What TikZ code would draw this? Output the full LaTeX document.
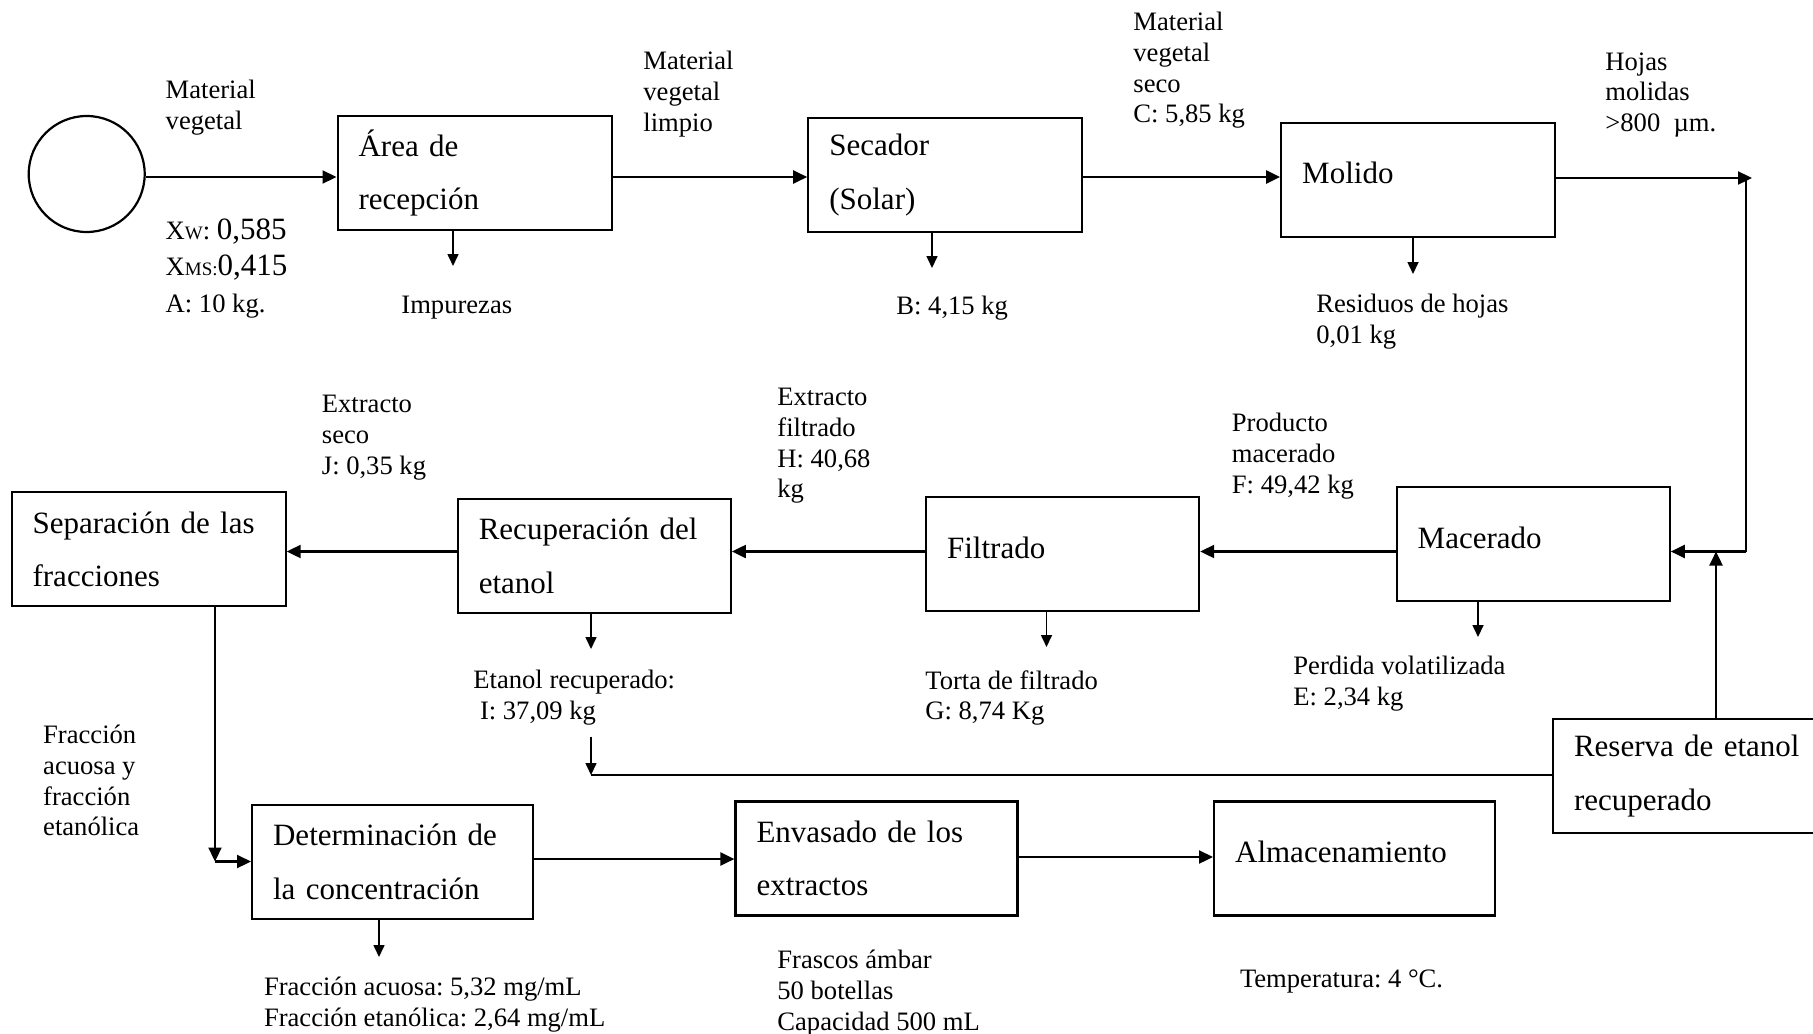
\documentclass[tikz,border=0pt]{standalone}
\usepackage{fontspec}
\setmainfont{Liberation Serif}
\usetikzlibrary{arrows.meta}
\frenchspacing
\begin{document}
\begin{tikzpicture}[x=0.5pt,y=-0.5pt,
  box/.style={draw, line width=1.1pt, inner xsep=10.5pt, inner ysep=0pt, align=left, minimum height=57pt, font=\fontsize{15.5}{26.8}\selectfont},
  lab/.style={anchor=north west, inner sep=0pt, align=left, font=\fontsize{13.3}{15.3}\selectfont},
  arr/.style={line width=1.1pt, -{Triangle[length=7pt,width=6.5pt]}},
  sarr/.style={line width=0.8pt, -{Triangle[length=6pt,width=5.5pt]}},
  thinline/.style={line width=0.6pt}]
\useasboundingbox (0,0) rectangle (1813,1033);
\fill[white] (0,0) rectangle (1813,1033);
\clip (0,0) rectangle (1813,1033);

% process units
\node[circle, draw, line width=1.1pt, minimum size=58pt, inner sep=0pt] (circ) at (86.7,174) {};
\node[box, text width=116pt] (recep) at (474.6,172.9) {Área de\\recepción};
\node[box, text width=116pt] (secad) at (945.3,175.2) {Secador\\(Solar)};
\node[box, text width=116pt] (molido) at (1418.2,179.8) {\raisebox{6.6pt}{Molido}};
\node[box, text width=115.5pt] (macer) at (1533.2,544) {\raisebox{6.6pt}{Macerado}};
\node[box, text width=115.5pt] (filtr) at (1062.6,553.9) {\raisebox{6.6pt}{Filtrado}};
\node[box, text width=115.5pt] (recup) at (594.3,555.6) {\mbox{Recuperación del}\\etanol};
\node[box, text width=116pt] (separ) at (148.6,549.2) {\mbox{Separación de las}\\fracciones};
\node[box, text width=110.5pt] (reserva) at (1684.5,776) {\mbox{Reserva de etanol}\\recuperado};
\node[box, text width=119.5pt] (determ) at (392.6,862) {\mbox{Determinación de}\\\mbox{la concentración}};
\node[box, text width=120pt] (envas) at (876.5,858.5) {\mbox{Envasado de los}\\extractos};
\node[box, text width=119.5pt] (almac) at (1354.6,858.5) {\raisebox{6.6pt}{Almacenamiento}};

% labels
\node[lab] (lmat) at (165.3,80) {Material\\vegetal};
\node[lab, font=\fontsize{13.3}{18.3}\selectfont] (lx) at (165.3,218) {X{\fontsize{9.5}{9.5}\selectfont W}: {\fontsize{15.5}{15.5}\selectfont 0,585}\\X{\fontsize{9.5}{9.5}\selectfont MS:}{\fontsize{15.5}{15.5}\selectfont 0,415}\\A: 10 kg.};
\node[lab] (limp) at (401,296) {Impurezas};
\node[lab] (llim) at (643,51) {Material\\vegetal\\limpio};
\node[lab] (lseco) at (1133,12) {Material\\vegetal\\seco\\C: 5,85 kg};
\node[lab] (lb) at (896,296) {B: 4,15 kg};
\node[lab] (lhoj) at (1605,52) {Hojas\\molidas\\>800 \ µm.};
\node[lab] (lres) at (1316,294) {Residuos de hojas\\0,01 kg};
\node[lab] (lj) at (321.5,395) {Extracto\\seco\\J: 0,35 kg};
\node[lab] (lh) at (777,388) {Extracto\\filtrado\\H: 40,68\\kg};
\node[lab] (lf) at (1231.5,413) {Producto\\macerado\\F: 49,42 kg};
\node[lab] (li) at (473,670) {Etanol recuperado:\\\ I: 37,09 kg};
\node[lab] (lg) at (925,670) {Torta de filtrado\\G: 8,74 Kg};
\node[lab] (le) at (1293,656) {Perdida volatilizada\\E: 2,34 kg};
\node[lab] (lfr) at (42.8,725) {Fracción\\acuosa y\\fracción\\etanólica};
\node[lab] (lconc) at (263.6,977) {Fracción acuosa: 5,32 mg/mL\\Fracción etanólica: 2,64 mg/mL};
\node[lab] (lfras) at (777,950) {Frascos ámbar\\50 botellas\\Capacidad 500 mL};
\node[lab] (ltemp) at (1239.6,969) {Temperatura: 4 °C.};

% main line connectors
\coordinate (yTop) at (0,177);
\draw[arr] (circ.east |- yTop) -- (recep.west |- yTop);
\draw[arr] (recep.east |- yTop) -- (secad.west |- yTop);
\draw[arr] (secad.east |- yTop) -- (molido.west |- yTop);
\coordinate (tr) at (1752,178);
\coordinate (br) at (1746,551.5);
\draw[arr] (molido.east |- tr) -- (tr);
\draw[thinline] (br |- tr) -- (br);
\draw[arr] (br) -- (macer.east |- br);
\coordinate (res1) at (1716,0);
\draw[arr] (reserva.north -| res1) -- (res1 |- br);
\draw[arr] (macer.west |- br) -- (filtr.east |- br);
\draw[arr] (filtr.west |- br) -- (recup.east |- br);
\draw[arr] (recup.west |- br) -- (separ.east |- br);
\coordinate (corner) at (215,861.5);
\draw[arr] (separ.south -| corner) -- (corner);
\draw[arr] (corner) -- (determ.west |- corner);
\coordinate (yb) at (0,859);
\draw[arr] (determ.east |- yb) -- (envas.west |- yb);
\coordinate (yc) at (0,857);
\draw[arr] (envas.east |- yc) -- (almac.west |- yc);

% side streams
\coordinate (d1) at (453,266);
\draw[sarr] (recep.south -| d1) -- (d1);
\coordinate (d2) at (932,268);
\draw[sarr] (secad.south -| d2) -- (d2);
\coordinate (d3) at (1413,274);
\draw[sarr] (molido.south -| d3) -- (d3);
\coordinate (d4) at (1478,637);
\draw[sarr] (macer.south -| d4) -- (d4);
\coordinate (d5) at (1046.5,647);
\draw[sarr] (filtr.south -| d5) -- (d5);
\coordinate (d6) at (591,649);
\draw[sarr] (recup.south -| d6) -- (d6);
\coordinate (d7) at (379,957);
\draw[sarr] (determ.south -| d7) -- (d7);
\coordinate (e1) at (591,736.5);
\coordinate (e2) at (591,775);
\draw[sarr] (e1) -- (e2);
\draw[thinline] (e2) -- (reserva.west |- e2);
\end{tikzpicture}
\end{document}
